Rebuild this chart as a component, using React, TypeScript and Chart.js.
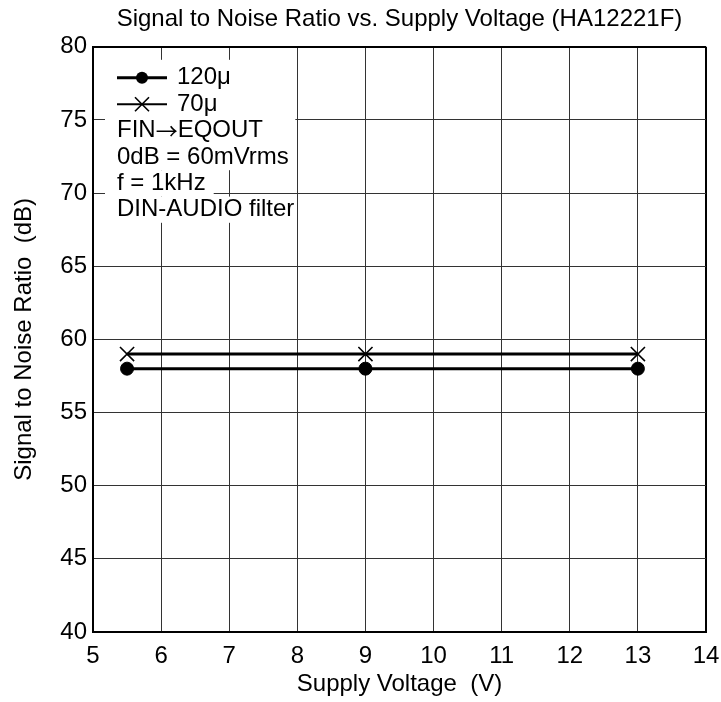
import React, { useEffect, useRef } from 'react';
import { Chart, registerables } from 'chart.js';

Chart.register(...registerables);

// ---- data ----
const supplyVoltages = [5.5, 9, 13];
const snr120u = [58, 58, 58];
const snr70u = [59, 59, 59];
const seriesLabels = ['120\u03bc', '70\u03bc'];
const noteLines = ['FIN\u2192EQOUT', '0dB = 60mVrms', 'f = 1kHz', 'DIN-AUDIO filter'];
const chartTitle = 'Signal to Noise Ratio vs. Supply Voltage (HA12221F)';
const xAxisTitle = 'Supply Voltage  (V)';
const yAxisTitle = 'Signal to Noise Ratio  (dB)';
const xRange = [5, 14];
const yRange = [40, 80];

const FAMILY = '"Liberation Sans", Arial, Helvetica, sans-serif';
const FONT = { family: FAMILY, size: 24, weight: 'normal' as const };

// draws text, rendering arrow characters with a font that has a long thin arrow glyph
function drawMixed(ctx: CanvasRenderingContext2D, text: string, x: number, y: number) {
  const parts = text.split(/(\u2192)/);
  let cx = x;
  parts.forEach((p) => {
    if (!p) return;
    if (p === '\u2192') {
      ctx.font = '22px "Noto Sans CJK JP", sans-serif';
    } else {
      ctx.font = `24px ${FAMILY}`;
    }
    ctx.fillText(p, cx, y);
    cx += ctx.measureText(p).width;
  });
  ctx.font = `24px ${FAMILY}`;
}

const notePlugin = {
  id: 'notePlugin',
  afterDraw(chart: any) {
    const { ctx, chartArea, scales } = chart;
    const L = chartArea.left;
    const T = chartArea.top;
    const rowH = 26.4;
    const firstY = T + 31;
    const boxL = L + 12;
    const boxR = scales.x.getPixelForValue(8) - 2;
    const rowY = (i: number) => firstY + i * rowH;
    ctx.save();
    ctx.font = `24px ${FAMILY}`;
    ctx.textBaseline = 'middle';
    ctx.textAlign = 'left';
    // white backgrounds
    ctx.fillStyle = '#fff';
    ctx.fillRect(boxL, T + 13, boxR - boxL, rowY(3) + rowH / 2 - (T + 13));
    const fW = ctx.measureText(noteLines[2]).width;
    ctx.fillRect(boxL, rowY(4) - rowH / 2, L + 24 + fW + 8 - boxL, rowH);
    ctx.fillRect(boxL, rowY(5) - rowH / 2, boxR - boxL, T + 176 - (rowY(5) - rowH / 2));

    // legend entries
    const lineX0 = L + 24;
    const lineX1 = L + 74;
    const mx = L + 49;
    ctx.strokeStyle = '#000';
    ctx.fillStyle = '#000';
    // row 0: circle
    let y = rowY(0);
    ctx.lineWidth = 3;
    ctx.beginPath();
    ctx.moveTo(lineX0, y);
    ctx.lineTo(lineX1, y);
    ctx.stroke();
    ctx.beginPath();
    ctx.arc(mx, y, 6, 0, Math.PI * 2);
    ctx.fill();
    ctx.fillText(seriesLabels[0], L + 84, y);
    // row 1: cross
    y = rowY(1);
    ctx.lineWidth = 2;
    ctx.beginPath();
    ctx.moveTo(lineX0, y);
    ctx.lineTo(lineX1, y);
    ctx.stroke();
    const c = 7;
    ctx.lineWidth = 1.6;
    ctx.beginPath();
    ctx.moveTo(mx - c, y - c);
    ctx.lineTo(mx + c, y + c);
    ctx.moveTo(mx - c, y + c);
    ctx.lineTo(mx + c, y - c);
    ctx.stroke();
    ctx.fillText(seriesLabels[1], L + 84, y);
    // notes
    noteLines.forEach((t, i) => {
      drawMixed(ctx, t, L + 24, rowY(i + 2));
    });
    ctx.restore();
  },
};

export default function App() {
  const ref = useRef<HTMLCanvasElement | null>(null);
  useEffect(() => {
    if (!ref.current) return;
    const chart = new Chart(ref.current, {
      type: 'line',
      data: {
        datasets: [
          {
            label: seriesLabels[0],
            data: supplyVoltages.map((x, i) => ({ x, y: snr120u[i] })),
            borderColor: '#000',
            backgroundColor: '#000',
            borderWidth: 3,
            pointStyle: 'circle',
            pointRadius: 6.5,
            pointBackgroundColor: '#000',
            pointBorderColor: '#000',
            pointBorderWidth: 1,
          },
          {
            label: seriesLabels[1],
            data: supplyVoltages.map((x, i) => ({ x, y: snr70u[i] })),
            borderColor: '#000',
            backgroundColor: '#000',
            borderWidth: 3,
            pointStyle: 'crossRot',
            pointRadius: 10,
            pointBorderColor: '#000',
            pointBorderWidth: 1.6,
          },
        ],
      },
      options: {
        animation: false,
        responsive: false,
        devicePixelRatio: 1,
        layout: { padding: { left: 0, right: 0, top: 0, bottom: 0 } },
        plugins: {
          legend: { display: false },
          tooltip: { enabled: false },
          title: {
            display: true,
            text: chartTitle,
            color: '#000',
            font: FONT,
            fullSize: false,
            padding: { top: 5, bottom: 13 },
          },
        },
        scales: {
          x: {
            type: 'linear',
            min: xRange[0],
            max: xRange[1],
            ticks: { stepSize: 1, color: '#000', font: FONT, padding: 10 },
            grid: {
              color: (c: any) => (c.tick && c.tick.value === xRange[1] ? '#000' : '#333'),
              lineWidth: (c: any) => (c.tick && c.tick.value === xRange[1] ? 2 : 1),
              drawTicks: false,
            },
            border: { color: '#000', width: 2 },
            title: { display: true, text: xAxisTitle, color: '#000', font: FONT, padding: { top: 0, bottom: 3 } },
            afterFit: (s: any) => {
              s.height = 70;
              s.paddingRight = 15;
              s.paddingLeft = 0;
            },
          },
          y: {
            type: 'linear',
            min: yRange[0],
            max: yRange[1],
            ticks: { stepSize: 5, color: '#000', font: FONT, padding: 6 },
            grid: {
              color: (c: any) => (c.tick && c.tick.value === yRange[1] ? '#000' : '#333'),
              lineWidth: (c: any) => (c.tick && c.tick.value === yRange[1] ? 2 : 1),
              drawTicks: false,
            },
            border: { color: '#000', width: 2 },
            title: { display: true, text: yAxisTitle, color: '#000', font: FONT, padding: { top: 10, bottom: 0 } },
            afterFit: (s: any) => {
              s.width = 93;
            },
          },
        },
      },
      plugins: [notePlugin],
    });
    return () => chart.destroy();
  }, []);
  return (
    <div style={{ position: 'fixed', left: 0, top: 0, width: 721, height: 702, background: '#fff' }}>
      <canvas ref={ref} width={721} height={702} style={{ display: 'block', width: 721, height: 702 }} />
    </div>
  );
}
